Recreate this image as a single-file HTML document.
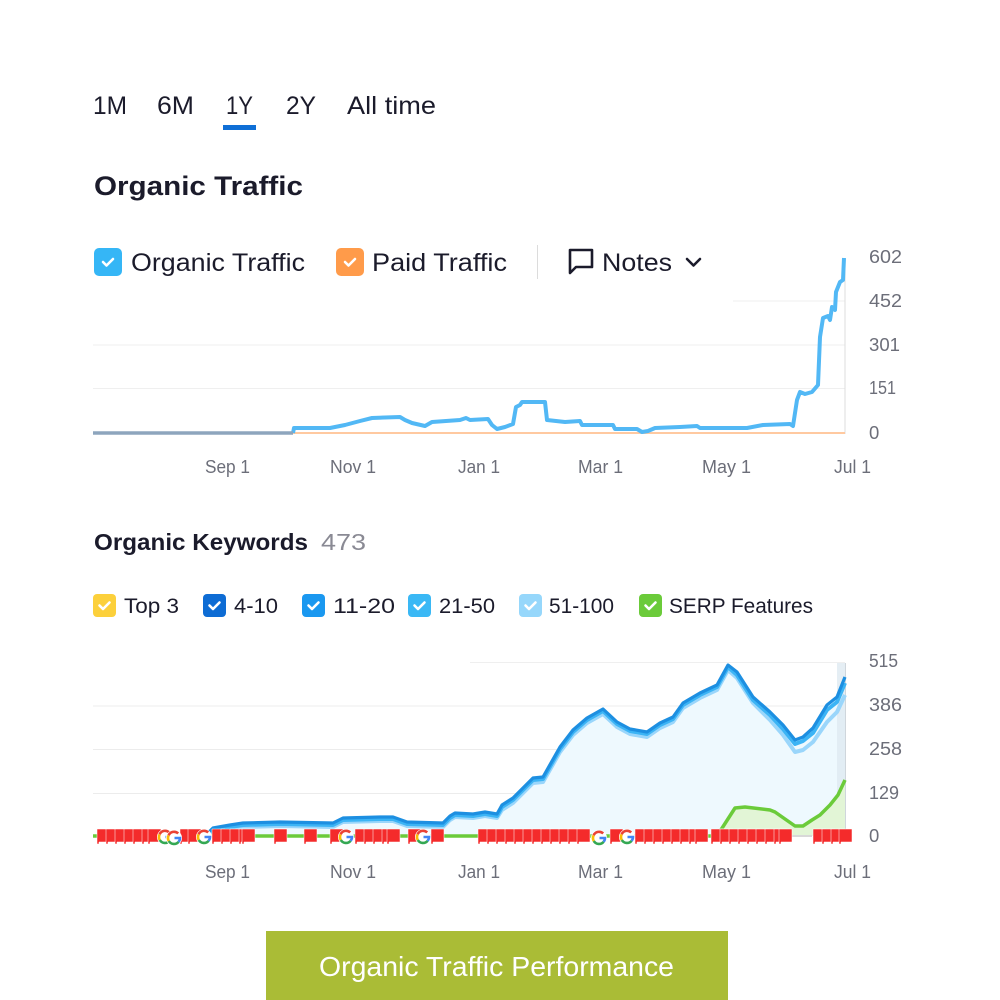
<!DOCTYPE html>
<html>
<head>
<meta charset="utf-8">
<style>
html,body{margin:0;padding:0;background:#fff;}
svg{display:block;}
text{font-family:"Liberation Sans",sans-serif;}
</style>
</head>
<body>
<svg width="1000" height="1000" viewBox="0 0 1000 1000" xmlns="http://www.w3.org/2000/svg">
<defs>
  <g id="f">
    <path d="M0,0 H13 V13 H2 V15 H0 Z" fill="#f42b2b" stroke="#fff" stroke-width="0.5"/>
  </g>
  <g id="g">
    <circle cx="0" cy="0" r="8" fill="#fff"/>
    <path d="M4.2,-4.6 A6,6 0 0 0 -5.4,-2.6" fill="none" stroke="#ea4335" stroke-width="2.6"/>
    <path d="M-5.4,-2.6 A6,6 0 0 0 -5.2,3" fill="none" stroke="#fbbc05" stroke-width="2.6"/>
    <path d="M-5.2,3 A6,6 0 0 0 4.6,3.8" fill="none" stroke="#34a853" stroke-width="2.6"/>
    <path d="M4.6,3.8 A6,6 0 0 0 6,0 H0.5" fill="none" stroke="#4285f4" stroke-width="2.6"/>
  </g>
  <g id="cb">
    <path d="M-5,0 L-1.5,3.5 L5,-3" fill="none" stroke="#fff" stroke-width="2.6" stroke-linecap="round" stroke-linejoin="round"/>
  </g>
</defs>

<!-- Tabs -->
<text x="93" y="114" font-size="25" fill="#1b1b2b" textLength="34" lengthAdjust="spacingAndGlyphs">1M</text>
<text x="157" y="114" font-size="25" fill="#1b1b2b" textLength="37" lengthAdjust="spacingAndGlyphs">6M</text>
<text x="226" y="114" font-size="25" fill="#1b1b2b" textLength="27" lengthAdjust="spacingAndGlyphs">1Y</text>
<text x="286" y="114" font-size="25" fill="#1b1b2b" textLength="30" lengthAdjust="spacingAndGlyphs">2Y</text>
<text x="347" y="114" font-size="25" fill="#1b1b2b" textLength="89" lengthAdjust="spacingAndGlyphs">All time</text>
<rect x="223" y="125" width="33" height="5" fill="#0f6fd6"/>

<!-- Title -->
<text x="94" y="195" font-size="27" font-weight="bold" fill="#1b1b2b" textLength="209" lengthAdjust="spacingAndGlyphs">Organic Traffic</text>

<!-- Legend 1 -->
<rect x="94" y="248" width="28" height="28" rx="5" fill="#35b6f6"/>
<use href="#cb" x="108" y="262"/>
<text x="131" y="271" font-size="25" fill="#1b1b2b" textLength="174" lengthAdjust="spacingAndGlyphs">Organic Traffic</text>
<rect x="336" y="248" width="28" height="28" rx="5" fill="#ff9b4a"/>
<use href="#cb" x="350" y="262"/>
<text x="372" y="271" font-size="25" fill="#1b1b2b" textLength="135" lengthAdjust="spacingAndGlyphs">Paid Traffic</text>
<line x1="537.5" y1="245" x2="537.5" y2="279" stroke="#dcdcdc" stroke-width="1"/>
<path d="M570,250 H592 V267 H576 L570,273 Z" fill="none" stroke="#1b1b2b" stroke-width="2.6" stroke-linejoin="round"/>
<text x="602" y="271" font-size="25" fill="#1b1b2b" textLength="70" lengthAdjust="spacingAndGlyphs">Notes</text>
<path d="M687,259 L693.5,265.5 L700,259" fill="none" stroke="#1b1b2b" stroke-width="2.6" stroke-linecap="round" stroke-linejoin="round"/>

<!-- Chart 1 grid -->
<line x1="733" y1="301" x2="845" y2="301" stroke="#efefef" stroke-width="1"/>
<line x1="93" y1="345" x2="845" y2="345" stroke="#efefef" stroke-width="1"/>
<line x1="93" y1="388.5" x2="845" y2="388.5" stroke="#efefef" stroke-width="1"/>
<line x1="845" y1="258" x2="845" y2="434" stroke="#dcdcdc" stroke-width="1"/>

<!-- Chart 1 series -->
<line x1="293" y1="433" x2="845" y2="433" stroke="#ffc9a0" stroke-width="2"/>
<polyline fill="none" stroke="#52b8f5" stroke-width="4" stroke-linejoin="round" points="293,433 294,428 330,428 345,425 360,421 372,418 400,417 405,420 412,423 425,426 432,422 460,420 466,418 470,420 488,419 492,425 497,429 505,427 513,424 516,407 520,405 522,402 545,402 547,420 565,422 580,421 582,425 613,425 615,429 637,429 642,432 648,431 655,428 680,427 697,426 700,428 747,428 763,425 790,424 793,426 797,400 800,392 805,394 812,392 818,385 820,337 823,318 828,316 830,320 832,307 835,310 836,292 840,282 843,280 844,258"/>
<line x1="93" y1="433" x2="293" y2="433" stroke="#8da5bd" stroke-width="3.6"/>

<!-- Chart 1 axis labels -->
<g font-size="18.5" fill="#6c6e79">
<text x="869" y="263" textLength="33" lengthAdjust="spacingAndGlyphs">602</text>
<text x="869" y="307" textLength="33" lengthAdjust="spacingAndGlyphs">452</text>
<text x="869" y="351" textLength="31" lengthAdjust="spacingAndGlyphs">301</text>
<text x="869" y="394" textLength="27" lengthAdjust="spacingAndGlyphs">151</text>
<text x="869" y="439">0</text>
<text x="205" y="473" textLength="45" lengthAdjust="spacingAndGlyphs">Sep 1</text>
<text x="330" y="473" textLength="46" lengthAdjust="spacingAndGlyphs">Nov 1</text>
<text x="458" y="473" textLength="42" lengthAdjust="spacingAndGlyphs">Jan 1</text>
<text x="578" y="473" textLength="45" lengthAdjust="spacingAndGlyphs">Mar 1</text>
<text x="702" y="473" textLength="49" lengthAdjust="spacingAndGlyphs">May 1</text>
<text x="834" y="473" textLength="37" lengthAdjust="spacingAndGlyphs">Jul 1</text>
</g>

<!-- Organic Keywords header -->
<text x="94" y="550" font-size="23" font-weight="bold" fill="#1b1b2b" textLength="214" lengthAdjust="spacingAndGlyphs">Organic Keywords</text>
<text x="321" y="550" font-size="23" fill="#8a8a94" textLength="45" lengthAdjust="spacingAndGlyphs">473</text>

<!-- Legend 2 -->
<rect x="93" y="594" width="23" height="23" rx="4" fill="#fcd03b"/><use href="#cb" x="104.5" y="605.5"/>
<text x="124" y="613" font-size="21" fill="#1b1b2b" textLength="55" lengthAdjust="spacingAndGlyphs">Top 3</text>
<rect x="203" y="594" width="23" height="23" rx="4" fill="#0e6cd4"/><use href="#cb" x="214.5" y="605.5"/>
<text x="234" y="613" font-size="21" fill="#1b1b2b" textLength="44" lengthAdjust="spacingAndGlyphs">4-10</text>
<rect x="302" y="594" width="23" height="23" rx="4" fill="#1a98f0"/><use href="#cb" x="313.5" y="605.5"/>
<text x="333" y="613" font-size="21" fill="#1b1b2b" textLength="62" lengthAdjust="spacingAndGlyphs">11-20</text>
<rect x="408" y="594" width="23" height="23" rx="4" fill="#3ab8f5"/><use href="#cb" x="419.5" y="605.5"/>
<text x="439" y="613" font-size="21" fill="#1b1b2b" textLength="56" lengthAdjust="spacingAndGlyphs">21-50</text>
<rect x="519" y="594" width="23" height="23" rx="4" fill="#96d7fb"/><use href="#cb" x="530.5" y="605.5"/>
<text x="549" y="613" font-size="21" fill="#1b1b2b" textLength="65" lengthAdjust="spacingAndGlyphs">51-100</text>
<rect x="639" y="594" width="23" height="23" rx="4" fill="#6bcb3a"/><use href="#cb" x="650.5" y="605.5"/>
<text x="669" y="613" font-size="21" fill="#1b1b2b" textLength="144" lengthAdjust="spacingAndGlyphs">SERP Features</text>

<!-- Chart 2 grid -->
<line x1="470" y1="662.5" x2="845" y2="662.5" stroke="#efefef" stroke-width="1"/>
<line x1="93" y1="706" x2="845" y2="706" stroke="#ececec" stroke-width="1"/>
<line x1="93" y1="749.5" x2="845" y2="749.5" stroke="#ececec" stroke-width="1"/>
<line x1="93" y1="793.5" x2="845" y2="793.5" stroke="#ececec" stroke-width="1"/>

<!-- Chart 2 area -->
<path fill="#eef9fe" d="M93,836 L205,836 L213,828 L230,825 L243,823 L280,822 L333,823 L343,818 L380,817 L393,817 L407,822 L443,823 L450,816 L455,813 L473,814 L485,812 L497,814 L502,805 L513,798 L533,778 L543,777 L560,747 L573,730 L587,718 L603,709 L617,722 L630,729 L647,732 L660,723 L673,717 L683,703 L700,693 L717,685 L728,665 L737,672 L753,697 L770,712 L783,725 L795,740 L803,737 L813,728 L827,705 L837,697 L845,677 L845,836 Z"/>
<rect x="837" y="663" width="9" height="173" fill="#dfeaf1" opacity="0.8"/>
<line x1="845.5" y1="663" x2="845.5" y2="836" stroke="#cfd6dc" stroke-width="1"/>

<!-- Green SERP -->
<path fill="#e2f5d6" d="M717,836 L735,808 L745,807 L770,810 L775,812 L795,826 L803,826 L812,820 L820,815 L830,805 L838,795 L845,780 L845,836 Z"/>

<!-- Blue lines -->
<polyline fill="none" stroke="#9ad6fb" stroke-width="4" stroke-linejoin="round" points="205,836 213,832 230,829 243,827 280,826 333,827 343,822 380,821 393,821 407,826 443,827 450,820 455,817 473,818 485,816 497,818 502,810 513,803 533,783 543,782 560,752 573,735 587,723 603,714 617,727 630,734 647,737 660,728 673,722 683,708 700,698 717,690 728,670 737,678 753,703 770,720 783,735 795,752 803,750 813,742 827,722 837,712 845,695"/>
<polyline fill="none" stroke="#3cb4f5" stroke-width="4" stroke-linejoin="round" points="205,836 213,830 230,827 243,825 280,824 333,825 343,820 380,819 393,819 407,824 443,825 450,818 455,815 473,816 485,814 497,816 502,807 513,800 533,780 543,779 560,749 573,732 587,720 603,711 617,724 630,731 647,734 660,725 673,719 683,705 700,695 717,687 728,667 737,675 753,700 770,715 783,729 795,744 803,741 813,733 827,710 837,702 845,683"/>
<polyline fill="none" stroke="#1d8fe1" stroke-width="3.2" stroke-linejoin="round" points="205,836 213,828 230,825 243,823 280,822 333,823 343,818 380,817 393,817 407,822 443,823 450,816 455,813 473,814 485,812 497,814 502,805 513,798 533,778 543,777 560,747 573,730 587,718 603,709 617,722 630,729 647,732 660,723 673,717 683,703 700,693 717,685 728,665 737,672 753,697 770,712 783,725 795,740 803,737 813,728 827,705 837,697 845,677"/>

<!-- Green line -->
<polyline fill="none" stroke="#6bcb3a" stroke-width="3.5" stroke-linejoin="round" points="93,836 717,836 735,808 745,807 770,810 775,812 795,826 803,826 812,820 820,815 830,805 838,795 845,780"/>
<line x1="792" y1="836" x2="812" y2="836" stroke="#d8d8d8" stroke-width="2"/>

<!-- Flags -->
<g transform="translate(0,829)">
<use href="#f" x="97"/><use href="#f" x="106"/><use href="#f" x="115"/><use href="#f" x="124"/><use href="#f" x="133"/><use href="#f" x="142"/><use href="#f" x="148"/>
<use href="#f" x="180"/><use href="#f" x="188"/>
<use href="#f" x="212"/><use href="#f" x="221"/><use href="#f" x="230"/><use href="#f" x="239"/><use href="#f" x="242"/>
<use href="#f" x="274"/><use href="#f" x="304"/>
<use href="#f" x="330"/><use href="#f" x="355"/><use href="#f" x="364"/><use href="#f" x="373"/><use href="#f" x="382"/><use href="#f" x="387"/>
<use href="#f" x="408"/><use href="#f" x="431"/>
<use href="#f" x="478"/><use href="#f" x="487"/><use href="#f" x="496"/><use href="#f" x="505"/><use href="#f" x="514"/><use href="#f" x="523"/><use href="#f" x="532"/><use href="#f" x="541"/><use href="#f" x="550"/><use href="#f" x="559"/><use href="#f" x="568"/><use href="#f" x="577"/>
<use href="#f" x="610"/><use href="#f" x="635"/><use href="#f" x="644"/><use href="#f" x="653"/><use href="#f" x="662"/><use href="#f" x="671"/><use href="#f" x="680"/><use href="#f" x="689"/><use href="#f" x="695"/>
<use href="#f" x="711"/><use href="#f" x="720"/><use href="#f" x="729"/><use href="#f" x="738"/><use href="#f" x="747"/><use href="#f" x="756"/><use href="#f" x="765"/><use href="#f" x="774"/><use href="#f" x="779"/>
<use href="#f" x="813"/><use href="#f" x="822"/><use href="#f" x="831"/><use href="#f" x="839"/>
</g>
<!-- Google icons -->
<use href="#g" x="165" y="837"/><use href="#g" x="174" y="838"/>
<use href="#g" x="204" y="837"/>
<use href="#g" x="346" y="837"/>
<use href="#g" x="423" y="837"/>
<use href="#g" x="599" y="838"/>
<use href="#g" x="627" y="837"/>

<!-- Chart 2 axis labels -->
<g font-size="18.5" fill="#6c6e79">
<text x="869" y="667" textLength="29" lengthAdjust="spacingAndGlyphs">515</text>
<text x="869" y="711" textLength="33" lengthAdjust="spacingAndGlyphs">386</text>
<text x="869" y="755" textLength="33" lengthAdjust="spacingAndGlyphs">258</text>
<text x="869" y="799" textLength="30" lengthAdjust="spacingAndGlyphs">129</text>
<text x="869" y="842">0</text>
<text x="205" y="878" textLength="45" lengthAdjust="spacingAndGlyphs">Sep 1</text>
<text x="330" y="878" textLength="46" lengthAdjust="spacingAndGlyphs">Nov 1</text>
<text x="458" y="878" textLength="42" lengthAdjust="spacingAndGlyphs">Jan 1</text>
<text x="578" y="878" textLength="45" lengthAdjust="spacingAndGlyphs">Mar 1</text>
<text x="702" y="878" textLength="49" lengthAdjust="spacingAndGlyphs">May 1</text>
<text x="834" y="878" textLength="37" lengthAdjust="spacingAndGlyphs">Jul 1</text>
</g>

<!-- Button -->
<rect x="266" y="931" width="462" height="69" fill="#aabc36"/>
<text x="319" y="976" font-size="28" fill="#ffffff" textLength="355" lengthAdjust="spacingAndGlyphs">Organic Traffic Performance</text>
</svg>
</body>
</html>
